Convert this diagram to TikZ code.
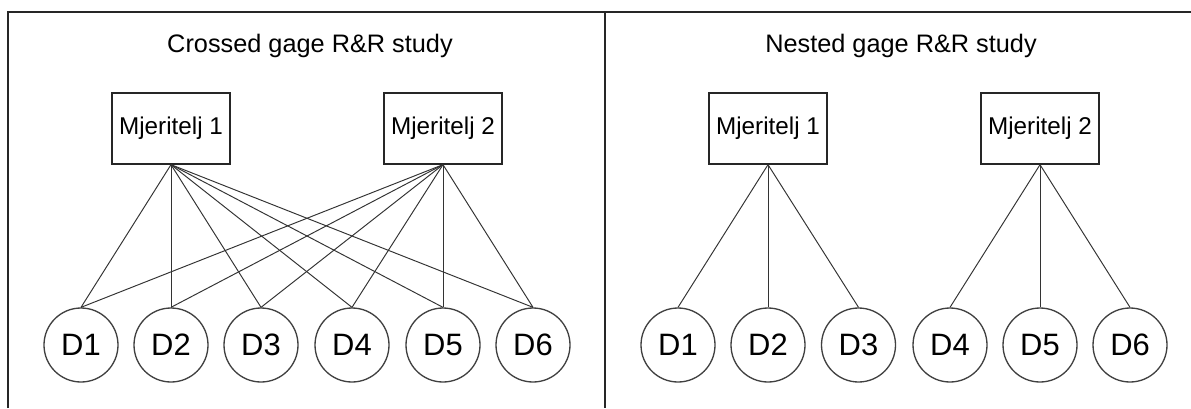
\documentclass[tikz,border=0pt]{standalone}
\usepackage{fontspec}
\setmainfont{Liberation Sans}

\tikzset{study title/.style={font=\fontsize{14.4}{16}\selectfont,anchor=base,inner sep=0cm},
rater/.style={draw=black!85,line width=0.75pt,minimum width=2.360cm,minimum height=1.420cm,inner sep=0cm,font=\fontsize{13.8}{16}\selectfont},
part/.style={circle,draw=black!75,line width=0.75pt,minimum size=1.480cm,inner sep=0cm,font=\fontsize{17.6}{20}\selectfont},
link/.style={draw=black!80,line width=0.55pt},
frame/.style={draw=black!85,line width=0.9pt}}

\begin{document}
\begin{tikzpicture}
% 1px of the layout is 0.02cm, the page is 1191 x 408 px
\useasboundingbox (0,0) rectangle (23.820,8.160);

%% Coordinates of the frame
\coordinate (f0) at (0.160,0.000);
\coordinate (f1) at (0.160,7.920);
\coordinate (f2) at (23.820,7.920);
\coordinate (f3) at (12.100,7.920);
\coordinate (f4) at (12.100,0.000);

%% frame lines
\draw [frame] (f0) -- (f1) -- (f2);
\draw [frame] (f3) -- (f4);

%% titles
\node [study title] (ct) at (6.200,7.120) {Crossed gage R\&R study};
\node [study title] (nt) at (18.020,7.120) {Nested gage R\&R study};

%% crossed study
\node [rater] (cm1) at (3.420,5.590) {Mjeritelj 1};
\node [rater] (cm2) at (8.860,5.590) {Mjeritelj 2};
\node [part] (cd1) at (1.620,1.260) {D1};
\node [part] (cd2) at (3.420,1.260) {D2};
\node [part] (cd3) at (5.220,1.260) {D3};
\node [part] (cd4) at (7.040,1.260) {D4};
\node [part] (cd5) at (8.860,1.260) {D5};
\node [part] (cd6) at (10.660,1.260) {D6};

\draw [link] (cm1.south) -- (cd1.north);
\draw [link] (cm1.south) -- (cd2.north);
\draw [link] (cm1.south) -- (cd3.north);
\draw [link] (cm1.south) -- (cd4.north);
\draw [link] (cm1.south) -- (cd5.north);
\draw [link] (cm1.south) -- (cd6.north);
\draw [link] (cm2.south) -- (cd1.north);
\draw [link] (cm2.south) -- (cd2.north);
\draw [link] (cm2.south) -- (cd3.north);
\draw [link] (cm2.south) -- (cd4.north);
\draw [link] (cm2.south) -- (cd5.north);
\draw [link] (cm2.south) -- (cd6.north);

%% nested study
\node [rater] (nm1) at (15.360,5.590) {Mjeritelj 1};
\node [rater] (nm2) at (20.800,5.590) {Mjeritelj 2};
\node [part] (nd1) at (13.560,1.260) {D1};
\node [part] (nd2) at (15.360,1.260) {D2};
\node [part] (nd3) at (17.170,1.260) {D3};
\node [part] (nd4) at (19.000,1.260) {D4};
\node [part] (nd5) at (20.800,1.260) {D5};
\node [part] (nd6) at (22.600,1.260) {D6};

\draw [link] (nm1.south) -- (nd1.north);
\draw [link] (nm1.south) -- (nd2.north);
\draw [link] (nm1.south) -- (nd3.north);
\draw [link] (nm2.south) -- (nd4.north);
\draw [link] (nm2.south) -- (nd5.north);
\draw [link] (nm2.south) -- (nd6.north);

\end{tikzpicture}
\end{document}
